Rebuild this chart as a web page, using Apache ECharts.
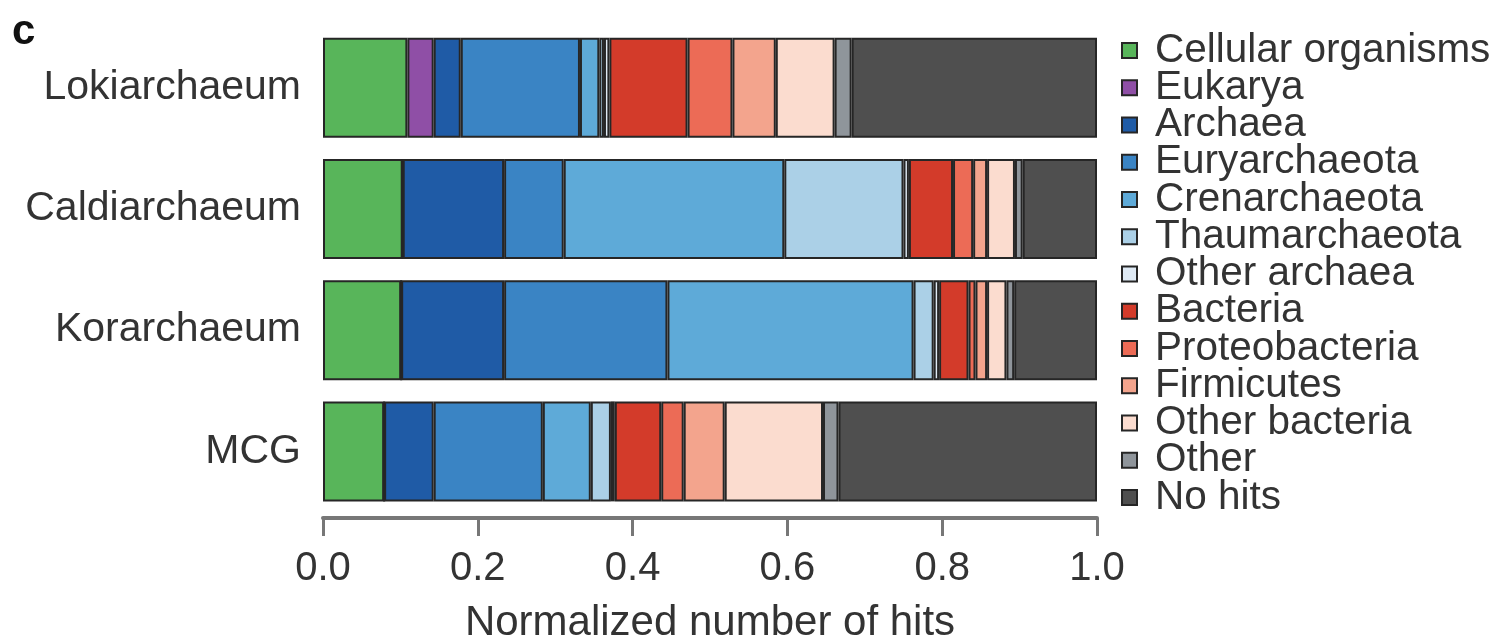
<!DOCTYPE html>
<html>
<head>
<meta charset="utf-8">
<script src="https://cdn.jsdelivr.net/npm/echarts@6/dist/echarts.min.js"></script>
<style>
  html, body { margin: 0; padding: 0; background: #fff; }
  #chart { width: 1503px; height: 636px; }
</style>
</head>
<body>
<div id="chart"></div>
<script>
// Genomes (top to bottom)
const categories = ['Lokiarchaeum', 'Caldiarchaeum', 'Korarchaeum', 'MCG'];

// Normalized fraction of hits per taxonomic group, one value per genome
const cellularOrganisms = [0.109, 0.103, 0.101, 0.079];
const eukarya           = [0.034, 0.000, 0.000, 0.000];
const archaea           = [0.035, 0.131, 0.133, 0.064];
const euryarchaeota     = [0.154, 0.077, 0.211, 0.141];
const crenarchaeota     = [0.025, 0.285, 0.318, 0.062];
const thaumarchaeota    = [0.006, 0.154, 0.026, 0.026];
const otherArchaea      = [0.007, 0.007, 0.007, 0.005];
const bacteria          = [0.101, 0.057, 0.038, 0.060];
const proteobacteria    = [0.058, 0.026, 0.009, 0.029];
const firmicutes        = [0.056, 0.018, 0.015, 0.053];
const otherBacteria     = [0.076, 0.036, 0.025, 0.127];
const other             = [0.022, 0.010, 0.010, 0.020];
const noHits            = [0.317, 0.096, 0.107, 0.334];

const groupNames = [
  'Cellular organisms', 'Eukarya', 'Archaea', 'Euryarchaeota', 'Crenarchaeota',
  'Thaumarchaeota', 'Other archaea', 'Bacteria', 'Proteobacteria', 'Firmicutes',
  'Other bacteria', 'Other', 'No hits'
];
const groupValues = [
  cellularOrganisms, eukarya, archaea, euryarchaeota, crenarchaeota,
  thaumarchaeota, otherArchaea, bacteria, proteobacteria, firmicutes,
  otherBacteria, other, noHits
];
const groupColors = [
  '#58b55a', '#8f4fa6', '#1f5ba6', '#3a84c4', '#5eaad8',
  '#abd0e7', '#dfeaf5', '#d33b2a', '#ec6b56', '#f3a48d',
  '#fbdccf', '#8f959b', '#4f4f4f'
];

const tickLabels = ['0.0', '0.2', '0.4', '0.6', '0.8', '1.0'];

const FONT = "'Liberation Sans', Arial, Helvetica, sans-serif";
const TEXT = '#333';

const chart = echarts.init(document.getElementById('chart'), null, { renderer: 'canvas' });

const series = groupNames.map((name, i) => ({
  name: name,
  type: 'bar',
  stack: 'hits',
  barWidth: 100,
  data: groupValues[i],
  itemStyle: {
    color: groupColors[i],
    borderColor: '#262626',
    borderWidth: 2
  },
  emphasis: { disabled: true },
  animation: false
}));

chart.setOption({
  animation: false,
  textStyle: { fontFamily: FONT },
  graphic: [{
    type: 'text',
    left: 12,
    top: 11,
    style: {
      text: 'c',
      font: 'bold 42px ' + FONT,
      fill: '#111'
    }
  }],
  legend: {
    orient: 'vertical',
    left: 1116,
    top: 25,
    height: 600,
    icon: 'rect',
    itemWidth: 15,
    itemHeight: 15,
    itemGap: -3.75,
    selectedMode: false,
    data: groupNames,
    textStyle: {
      fontFamily: FONT,
      fontSize: 40.5,
      color: TEXT,
      padding: [0, 0, 0, 13]
    }
  },
  grid: {
    left: 323,
    right: 406,
    top: 27,
    bottom: 124,
    containLabel: false,
    outerBoundsMode: 'none'
  },
  xAxis: {
    type: 'value',
    min: 0,
    max: 1,
    interval: 0.2,
    offset: 6,
    name: 'Normalized number of hits',
    nameLocation: 'middle',
    nameGap: 84,
    nameTextStyle: { fontFamily: FONT, fontSize: 42, color: TEXT },
    axisLine: { show: true, lineStyle: { color: '#777', width: 4 } },
    axisTick: { show: true, length: 18, lineStyle: { color: '#777', width: 3 } },
    splitLine: { show: false },
    axisLabel: {
      margin: 31,
      fontFamily: FONT,
      fontSize: 40,
      color: TEXT,
      formatter: (v) => tickLabels[Math.round(v / 0.2)]
    }
  },
  yAxis: {
    type: 'category',
    data: categories,
    inverse: true,
    axisLine: { show: false },
    axisTick: { show: false },
    splitLine: { show: false },
    axisLabel: {
      margin: 22,
      fontFamily: FONT,
      fontSize: 41,
      color: TEXT
    }
  },
  series: series
});
</script>
</body>
</html>
